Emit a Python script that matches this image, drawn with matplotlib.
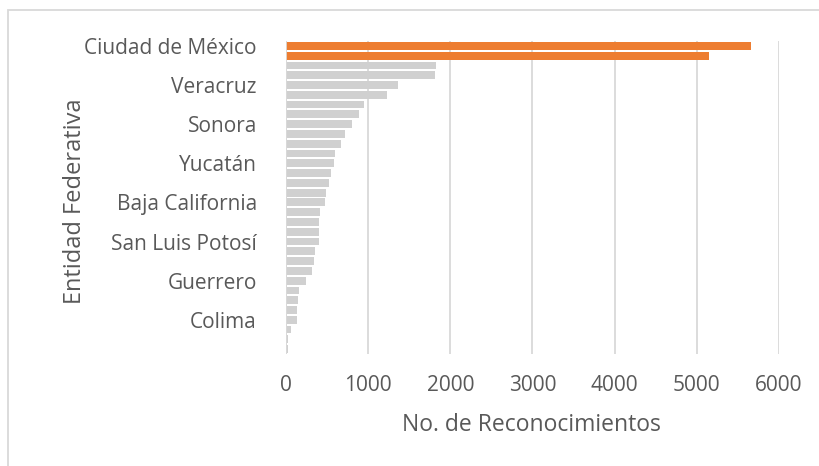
import matplotlib.pyplot as plt
from matplotlib.patches import Rectangle

# Reconocimientos por entidad federativa
estados = ["Ciudad de México", "México", "Jalisco", "Nuevo León", "Veracruz", "Puebla",
           "Guanajuato", "Chihuahua", "Sonora", "Michoacán", "Hidalgo", "Coahuila",
           "Yucatán", "Querétaro", "Oaxaca", "Chiapas", "Baja California", "Sinaloa",
           "Morelos", "Tamaulipas", "San Luis Potosí", "Tabasco", "Quintana Roo", "Durango",
           "Guerrero", "Aguascalientes", "Zacatecas", "Tlaxcala", "Colima", "Nayarit",
           "Campeche", "Baja California Sur"]
reconocimientos = [5665, 5145, 1825, 1810, 1360, 1235, 955, 890, 800, 720, 670, 600,
                   588, 550, 518, 490, 470, 412, 405, 405, 396, 358, 343, 316,
                   242, 157, 148, 137, 132, 60, 24, 22]
destacados = ["Ciudad de México", "México"]
xticks = [0, 1000, 2000, 3000, 4000, 5000, 6000]

plt.rcParams['font.family'] = ['Open Sans', 'DejaVu Sans']
txt = '#595959'

fig = plt.figure(figsize=(8.2, 4.66), dpi=100)
ax = fig.add_axes([286/820, 1 - 354/466, (779 - 286)/820, (354 - 41)/466])

colores = ['#ED7D31' if e in destacados else '#D0D0D0' for e in estados]
pos = list(range(len(estados)))
ax.barh(pos, reconocimientos, height=0.8, color=colores, zorder=3)

ax.set_xlim(0, 6000)
ax.set_ylim(len(estados) - 0.5, -0.5)
ax.set_xticks(xticks)
ax.set_xticklabels([str(t) for t in xticks], fontsize=15, color=txt)
ax.set_yticks(pos[::4])
ax.set_yticklabels(estados[::4], fontsize=15, color=txt)
ax.tick_params(length=0, pad=15, axis='x')
ax.tick_params(length=0, pad=21, axis='y')
ax.grid(axis='x', color='#D9D9D9', linewidth=1.3, zorder=0)
for s in ax.spines.values():
    s.set_visible(False)
ax.axvline(0, color='#D9D9D9', linewidth=1.3, zorder=4)

ax.set_xlabel("No. de Reconocimientos", fontsize=16.5, color=txt)
ax.set_ylabel("Entidad Federativa", fontsize=17, color=txt)
ax.xaxis.set_label_coords(0.498, -0.19)
ax.yaxis.set_label_coords(-0.403, 0.487)

# borde del área del gráfico
fig.patches.append(Rectangle((8/820, -0.1), 1.1, 1 - 10/466 + 0.1, transform=fig.transFigure,
                             fill=False, edgecolor='#D9D9D9', linewidth=1.3))

fig.savefig("out.png", dpi=100)
